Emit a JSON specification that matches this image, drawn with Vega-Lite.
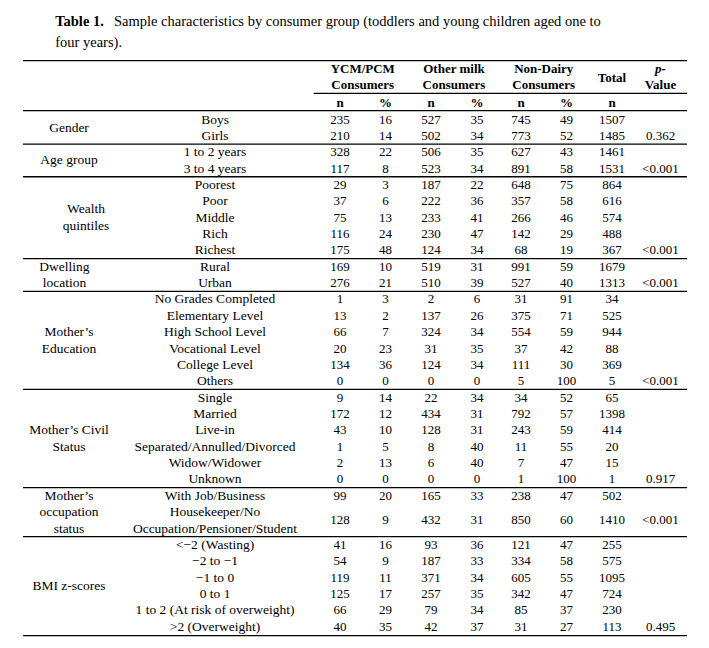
{
  "$schema": "https://vega.github.io/schema/vega-lite/v6.json",
  "width": 709,
  "height": 648,
  "autosize": "none",
  "padding": 0,
  "background": "white",
  "config": {"view": {"stroke": null}},
  "datasets": {
    "cols": [
      {"key": "ycm_n", "c": 2}, {"key": "ycm_p", "c": 3},
      {"key": "oth_n", "c": 4}, {"key": "oth_p", "c": 5},
      {"key": "nd_n", "c": 6}, {"key": "nd_p", "c": 7},
      {"key": "total", "c": 8}, {"key": "pval", "c": 9}
    ],
    "rules": [
      {"r": -3.6, "c": -1, "c2": 10},
      {"r": -1.6, "c": 1.79, "c2": 10},
      {"r": -0.54, "c": -1, "c2": 10},
      {"r": 1.5, "c": -1, "c2": 10},
      {"r": 3.5, "c": -1, "c2": 10},
      {"r": 8.5, "c": -1, "c2": 10},
      {"r": 10.5, "c": -1, "c2": 10},
      {"r": 16.5, "c": -1, "c2": 10},
      {"r": 22.5, "c": -1, "c2": 10},
      {"r": 25.5, "c": -1, "c2": 10},
      {"r": 31.55, "c": -1, "c2": 10}
    ],
    "headers": [
      {"r": -3.1, "c": 2.5, "t": "YCM/PCM"},
      {"r": -2.1, "c": 2.5, "t": "Consumers"},
      {"r": -3.1, "c": 4.5, "t": "Other milk"},
      {"r": -2.1, "c": 4.5, "t": "Consumers"},
      {"r": -3.1, "c": 6.5, "t": "Non-Dairy"},
      {"r": -2.1, "c": 6.5, "t": "Consumers"},
      {"r": -2.55, "c": 8, "t": "Total"},
      {"r": -2.1, "c": 9, "t": "Value"},
      {"r": -1, "c": 2, "t": "n"},
      {"r": -1, "c": 3, "t": "%"},
      {"r": -1, "c": 4, "t": "n"},
      {"r": -1, "c": 5, "t": "%"},
      {"r": -1, "c": 6, "t": "n"},
      {"r": -1, "c": 7, "t": "%"},
      {"r": -1, "c": 8, "t": "n"}
    ],
    "labels": [
      {"r": 0.5, "c": 0, "t": "Gender"},
      {"r": 2.5, "c": 0, "t": "Age group"},
      {"r": 5.5, "c": 0.116, "t": "Wealth"},
      {"r": 6.5, "c": 0.116, "t": "quintiles"},
      {"r": 9, "c": -0.1, "t": "Dwelling"},
      {"r": 10, "c": -0.1, "t": "location"},
      {"r": 13, "c": 0, "t": "Mother’s"},
      {"r": 14, "c": 0, "t": "Education"},
      {"r": 19, "c": 0, "t": "Mother’s Civil"},
      {"r": 20, "c": 0, "t": "Status"},
      {"r": 23, "c": 0, "t": "Mother’s"},
      {"r": 24, "c": 0, "t": "occupation"},
      {"r": 25, "c": 0, "t": "status"},
      {"r": 28.5, "c": 0, "t": "BMI z-scores"},
      {"r": 0, "c": 1, "t": "Boys"},
      {"r": 1, "c": 1, "t": "Girls"},
      {"r": 2, "c": 1, "t": "1 to 2 years"},
      {"r": 3, "c": 1, "t": "3 to 4 years"},
      {"r": 4, "c": 1, "t": "Poorest"},
      {"r": 5, "c": 1, "t": "Poor"},
      {"r": 6, "c": 1, "t": "Middle"},
      {"r": 7, "c": 1, "t": "Rich"},
      {"r": 8, "c": 1, "t": "Richest"},
      {"r": 9, "c": 1, "t": "Rural"},
      {"r": 10, "c": 1, "t": "Urban"},
      {"r": 11, "c": 1, "t": "No Grades Completed"},
      {"r": 12, "c": 1, "t": "Elementary Level"},
      {"r": 13, "c": 1, "t": "High School Level"},
      {"r": 14, "c": 1, "t": "Vocational Level"},
      {"r": 15, "c": 1, "t": "College Level"},
      {"r": 16, "c": 1, "t": "Others"},
      {"r": 17, "c": 1, "t": "Single"},
      {"r": 18, "c": 1, "t": "Married"},
      {"r": 19, "c": 1, "t": "Live-in"},
      {"r": 20, "c": 1, "t": "Separated/Annulled/Divorced"},
      {"r": 21, "c": 1, "t": "Widow/Widower"},
      {"r": 22, "c": 1, "t": "Unknown"},
      {"r": 23, "c": 1, "t": "With Job/Business"},
      {"r": 24, "c": 1, "t": "Housekeeper/No"},
      {"r": 25, "c": 1, "t": "Occupation/Pensioner/Student"},
      {"r": 26, "c": 1, "t": "<−2 (Wasting)"},
      {"r": 27, "c": 1, "t": "−2 to −1"},
      {"r": 28, "c": 1, "t": "−1 to 0"},
      {"r": 29, "c": 1, "t": "0 to 1"},
      {"r": 30, "c": 1, "t": "1 to 2 (At risk of overweight)"},
      {"r": 31, "c": 1, "t": ">2 (Overweight)"}
    ],
    "values": [
      {"r": 0, "ycm_n": 235, "ycm_p": 16, "oth_n": 527, "oth_p": 35, "nd_n": 745, "nd_p": 49, "total": 1507},
      {"r": 1, "ycm_n": 210, "ycm_p": 14, "oth_n": 502, "oth_p": 34, "nd_n": 773, "nd_p": 52, "total": 1485, "pval": "0.362"},
      {"r": 2, "ycm_n": 328, "ycm_p": 22, "oth_n": 506, "oth_p": 35, "nd_n": 627, "nd_p": 43, "total": 1461},
      {"r": 3, "ycm_n": 117, "ycm_p": 8, "oth_n": 523, "oth_p": 34, "nd_n": 891, "nd_p": 58, "total": 1531, "pval": "<0.001"},
      {"r": 4, "ycm_n": 29, "ycm_p": 3, "oth_n": 187, "oth_p": 22, "nd_n": 648, "nd_p": 75, "total": 864},
      {"r": 5, "ycm_n": 37, "ycm_p": 6, "oth_n": 222, "oth_p": 36, "nd_n": 357, "nd_p": 58, "total": 616},
      {"r": 6, "ycm_n": 75, "ycm_p": 13, "oth_n": 233, "oth_p": 41, "nd_n": 266, "nd_p": 46, "total": 574},
      {"r": 7, "ycm_n": 116, "ycm_p": 24, "oth_n": 230, "oth_p": 47, "nd_n": 142, "nd_p": 29, "total": 488},
      {"r": 8, "ycm_n": 175, "ycm_p": 48, "oth_n": 124, "oth_p": 34, "nd_n": 68, "nd_p": 19, "total": 367, "pval": "<0.001"},
      {"r": 9, "ycm_n": 169, "ycm_p": 10, "oth_n": 519, "oth_p": 31, "nd_n": 991, "nd_p": 59, "total": 1679},
      {"r": 10, "ycm_n": 276, "ycm_p": 21, "oth_n": 510, "oth_p": 39, "nd_n": 527, "nd_p": 40, "total": 1313, "pval": "<0.001"},
      {"r": 11, "ycm_n": 1, "ycm_p": 3, "oth_n": 2, "oth_p": 6, "nd_n": 31, "nd_p": 91, "total": 34},
      {"r": 12, "ycm_n": 13, "ycm_p": 2, "oth_n": 137, "oth_p": 26, "nd_n": 375, "nd_p": 71, "total": 525},
      {"r": 13, "ycm_n": 66, "ycm_p": 7, "oth_n": 324, "oth_p": 34, "nd_n": 554, "nd_p": 59, "total": 944},
      {"r": 14, "ycm_n": 20, "ycm_p": 23, "oth_n": 31, "oth_p": 35, "nd_n": 37, "nd_p": 42, "total": 88},
      {"r": 15, "ycm_n": 134, "ycm_p": 36, "oth_n": 124, "oth_p": 34, "nd_n": 111, "nd_p": 30, "total": 369},
      {"r": 16, "ycm_n": 0, "ycm_p": 0, "oth_n": 0, "oth_p": 0, "nd_n": 5, "nd_p": 100, "total": 5, "pval": "<0.001"},
      {"r": 17, "ycm_n": 9, "ycm_p": 14, "oth_n": 22, "oth_p": 34, "nd_n": 34, "nd_p": 52, "total": 65},
      {"r": 18, "ycm_n": 172, "ycm_p": 12, "oth_n": 434, "oth_p": 31, "nd_n": 792, "nd_p": 57, "total": 1398},
      {"r": 19, "ycm_n": 43, "ycm_p": 10, "oth_n": 128, "oth_p": 31, "nd_n": 243, "nd_p": 59, "total": 414},
      {"r": 20, "ycm_n": 1, "ycm_p": 5, "oth_n": 8, "oth_p": 40, "nd_n": 11, "nd_p": 55, "total": 20},
      {"r": 21, "ycm_n": 2, "ycm_p": 13, "oth_n": 6, "oth_p": 40, "nd_n": 7, "nd_p": 47, "total": 15},
      {"r": 22, "ycm_n": 0, "ycm_p": 0, "oth_n": 0, "oth_p": 0, "nd_n": 1, "nd_p": 100, "total": 1, "pval": "0.917"},
      {"r": 23, "ycm_n": 99, "ycm_p": 20, "oth_n": 165, "oth_p": 33, "nd_n": 238, "nd_p": 47, "total": 502},
      {"r": 24.5, "ycm_n": 128, "ycm_p": 9, "oth_n": 432, "oth_p": 31, "nd_n": 850, "nd_p": 60, "total": 1410, "pval": "<0.001"},
      {"r": 26, "ycm_n": 41, "ycm_p": 16, "oth_n": 93, "oth_p": 36, "nd_n": 121, "nd_p": 47, "total": 255},
      {"r": 27, "ycm_n": 54, "ycm_p": 9, "oth_n": 187, "oth_p": 33, "nd_n": 334, "nd_p": 58, "total": 575},
      {"r": 28, "ycm_n": 119, "ycm_p": 11, "oth_n": 371, "oth_p": 34, "nd_n": 605, "nd_p": 55, "total": 1095},
      {"r": 29, "ycm_n": 125, "ycm_p": 17, "oth_n": 257, "oth_p": 35, "nd_n": 342, "nd_p": 47, "total": 724},
      {"r": 30, "ycm_n": 66, "ycm_p": 29, "oth_n": 79, "oth_p": 34, "nd_n": 85, "nd_p": 37, "total": 230},
      {"r": 31, "ycm_n": 40, "ycm_p": 35, "oth_n": 42, "oth_p": 37, "nd_n": 31, "nd_p": 27, "total": 113, "pval": "0.495"}
    ]
  },
  "encoding": {
    "x": {
      "field": "c", "type": "quantitative", "axis": null,
      "scale": {
        "domain": [-1, 0, 1, 2, 3, 4, 5, 6, 7, 8, 9, 10],
        "range": [23, 69, 215, 340, 385.5, 431, 477, 521, 566.5, 612, 660.5, 687],
        "zero": false, "nice": false
      }
    },
    "y": {
      "field": "r", "type": "quantitative", "axis": null,
      "scale": {"domain": [-7.3044, 32.304], "range": [0, 648], "zero": false, "nice": false}
    }
  },
  "layer": [
    {
      "data": {"name": "rules"},
      "mark": {"type": "rule", "color": "black", "strokeWidth": 1.3},
      "encoding": {"x2": {"field": "c2"}}
    },
    {
      "data": {"values": [{"r": -5.94, "c": -0.3, "t": "Table 1."}]},
      "mark": {"type": "text", "font": "Liberation Serif", "fontSize": 14.5, "fontWeight": "bold", "align": "left", "baseline": "middle", "color": "black"},
      "encoding": {"text": {"field": "t", "type": "nominal"}}
    },
    {
      "data": {"values": [
        {"r": -5.94, "c": 0.308, "t": "Sample characteristics by consumer group (toddlers and young children aged one to"},
        {"r": -4.66, "c": -0.3, "t": "four years)."}
      ]},
      "mark": {"type": "text", "font": "Liberation Serif", "fontSize": 14.5, "align": "left", "baseline": "middle", "color": "black"},
      "encoding": {"text": {"field": "t", "type": "nominal"}}
    },
    {
      "data": {"name": "headers"},
      "mark": {"type": "text", "font": "Liberation Serif", "fontSize": 13, "fontWeight": "bold", "align": "center", "baseline": "middle", "color": "black"},
      "encoding": {"text": {"field": "t", "type": "nominal"}}
    },
    {
      "data": {"values": [{"r": -3.1, "c": 9, "t": "p-"}]},
      "mark": {"type": "text", "font": "Liberation Serif", "fontSize": 13, "fontWeight": "bold", "fontStyle": "italic", "align": "center", "baseline": "middle", "color": "black"},
      "encoding": {"text": {"field": "t", "type": "nominal"}}
    },
    {
      "data": {"name": "labels"},
      "mark": {"type": "text", "font": "Liberation Serif", "fontSize": 13.5, "align": "center", "baseline": "middle", "color": "black"},
      "encoding": {"text": {"field": "t", "type": "nominal"}}
    },
    {
      "data": {"name": "values"},
      "transform": [
        {"fold": ["ycm_n", "ycm_p", "oth_n", "oth_p", "nd_n", "nd_p", "total", "pval"], "as": ["key", "t"]},
        {"filter": "isValid(datum.t)"},
        {"lookup": "key", "from": {"data": {"name": "cols"}, "key": "key", "fields": ["c"]}}
      ],
      "mark": {"type": "text", "font": "Liberation Serif", "fontSize": 13, "align": "center", "baseline": "middle", "color": "black"},
      "encoding": {"text": {"field": "t", "type": "nominal"}}
    }
  ]
}
